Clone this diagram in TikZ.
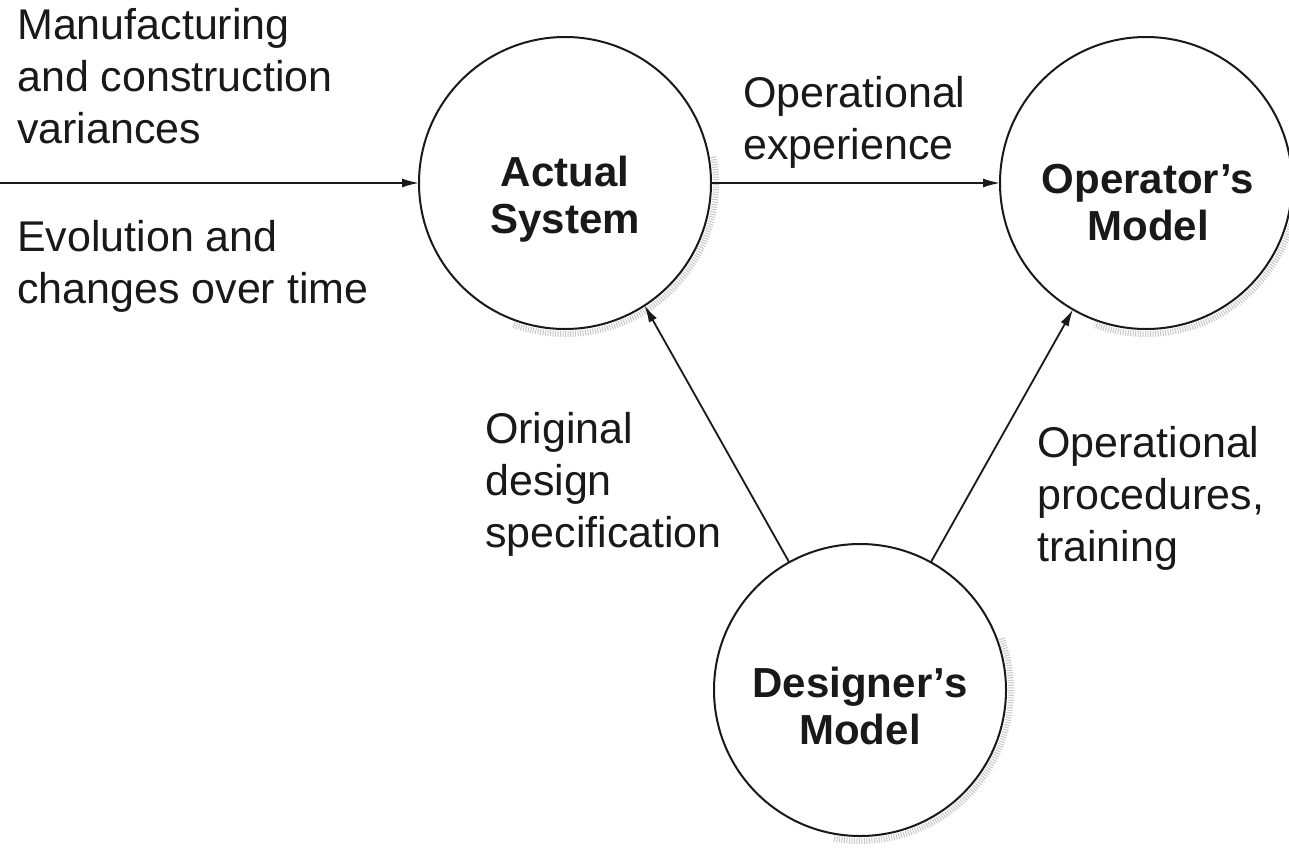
\documentclass[tikz,border=0pt]{standalone}
\usepackage{fontspec}
\setmainfont{Liberation Sans}
\usetikzlibrary{arrows.meta}
\begin{document}
\begin{tikzpicture}[x=1pt,y=-1pt,
  sysnode/.style={circle, draw=black!90, line width=2pt, minimum size=292pt, inner sep=0pt, outer sep=0pt},
  lbl/.style={font=\fontsize{43}{52}\selectfont, align=left, anchor=north west, inner sep=0pt, text=black!90},
  sysname/.style={font=\bfseries\fontsize{42}{47}\selectfont, align=center, anchor=north, inner sep=0pt, text=black!90},
  conn/.style={draw=black!90, line width=1.8pt, -{Latex[length=17pt,width=9pt]}},
  scanshade/.style={draw=black!22, line width=6pt, dash pattern=on 1pt off 1.5pt}
]
\useasboundingbox[fill=white] (0,0) rectangle (1289,849);

% faint scan shadows
\draw[scanshade] (565,183) ++(-10:151) arc[start angle=-10, end angle=110, radius=151];
\draw[scanshade] (1146,183) ++(15:151) arc[start angle=15, end angle=110, radius=151];
\draw[scanshade] (860,690) ++(-20:151) arc[start angle=-20, end angle=100, radius=151];

% circles
\node[sysnode] (act) at (565,183) {};
\node[sysnode] (opm) at (1146,183) {};
\node[sysnode] (des) at (860,690) {};

% names inside circles
\node[sysname] (actT) at (565,156) {Actual\\System};
\node[sysname] (opmT) at (1148,164) {Operator’s\\Model};
\node[sysname] (desT) at (860,667) {Designer’s\\Model};

% connector labels
\node[lbl] (manuf) at (17,8) {Manufacturing\\and construction\\variances};
\node[lbl] (evol) at (17,220) {Evolution and\\changes over time};
\node[lbl] (opexp) at (743,76) {Operational\\experience};
\node[lbl] (orig) at (485,412) {Original\\design\\specification};
\node[lbl] (oproc) at (1037,426) {Operational\\procedures,\\training};

% connectors
\coordinate (src) at (0,183);
\draw[conn] (src) -- (act.west);
\draw[conn] (act.east) -- (opm.west);
\draw[conn] (des.119.8) -- (act.-57.8);
\draw[conn] (des.61) -- (opm.-120);
\end{tikzpicture}
\end{document}
